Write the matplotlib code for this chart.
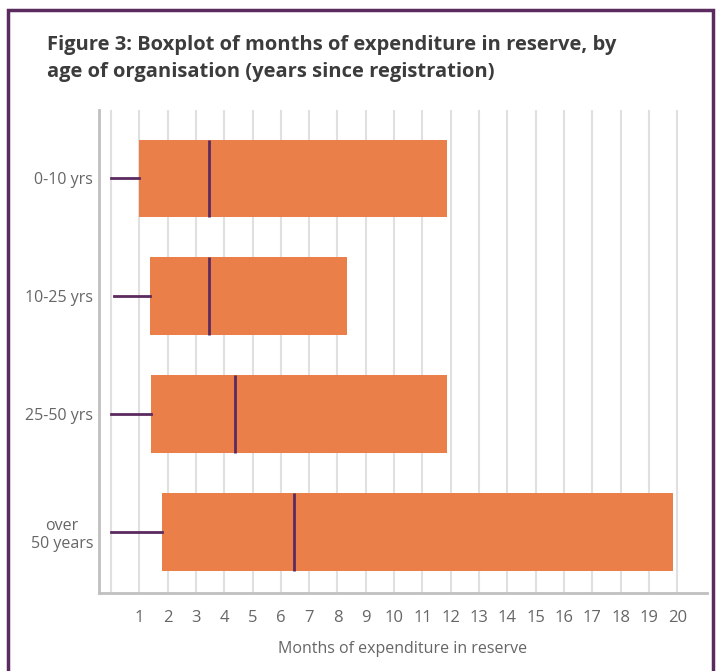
import matplotlib.pyplot as plt
from matplotlib.patches import Rectangle

plt.rcParams['font.family'] = ['Open Sans', 'DejaVu Sans']

# data (months of expenditure in reserve)
groups = ['0-10 yrs', '10-25 yrs', '25-50 yrs', 'over\n50 years']
whisker_low = [0.0, 0.12, 0.0, 0.0]
q1 = [1.0, 1.38, 1.41, 1.8]
median = [3.47, 3.46, 4.38, 6.47]
q3 = [11.87, 8.34, 11.87, 19.86]
xticks = list(range(1, 21))

orange = '#EB7F4A'
purple = '#5B2A5E'
grey_txt = '#666666'

fig = plt.figure(figsize=(7.21, 6.71), dpi=100)
ax = fig.add_axes([0.137, 0.116, 0.844, 0.72])

stats = []
for i, g in enumerate(groups):
    stats.append({'label': g, 'whislo': whisker_low[i], 'q1': q1[i], 'med': median[i],
                  'q3': q3[i], 'whishi': q3[i], 'fliers': []})

ax.bxp(stats, positions=range(len(groups)), widths=0.66, orientation='horizontal',
       patch_artist=True, showcaps=False, showfliers=False,
       boxprops=dict(facecolor=orange, edgecolor=orange, linewidth=0),
       medianprops=dict(color=purple, linewidth=2),
       whiskerprops=dict(color=purple, linewidth=2))

ax.set_ylim(3.52, -0.58)
ax.set_xlim(-0.43, 21.06)
ax.set_xticks([0] + xticks)
ax.set_xticklabels([''] + [str(t) for t in xticks])
ax.grid(axis='x', color='#e0e0e0', linewidth=1.5, zorder=0)
ax.set_axisbelow(True)
ax.tick_params(axis='x', length=0, pad=12, labelsize=12, labelcolor=grey_txt)
ax.tick_params(axis='y', length=0, pad=4, labelsize=11.5, labelcolor=grey_txt)
for lab in ax.get_yticklabels():
    lab.set_multialignment('center')
ax.set_xlabel('Months of expenditure in reserve', fontsize=11.5, color=grey_txt, labelpad=11)

for s in ['top', 'right']:
    ax.spines[s].set_visible(False)
for s in ['left', 'bottom']:
    ax.spines[s].set_color('#c0c0c0')
    ax.spines[s].set_linewidth(2)

fig.text(0.065, 0.948, 'Figure 3: Boxplot of months of expenditure in reserve, by\nage of organisation (years since registration)',
         fontsize=14.5, fontweight='bold', color='#3c3c3c', va='top', linespacing=1.5)

fig.add_artist(Rectangle((0.011, -0.05), 0.978, 1.035, transform=fig.transFigure,
                         fill=False, edgecolor=purple, linewidth=2.5))

fig.savefig('out.png', dpi=100)
